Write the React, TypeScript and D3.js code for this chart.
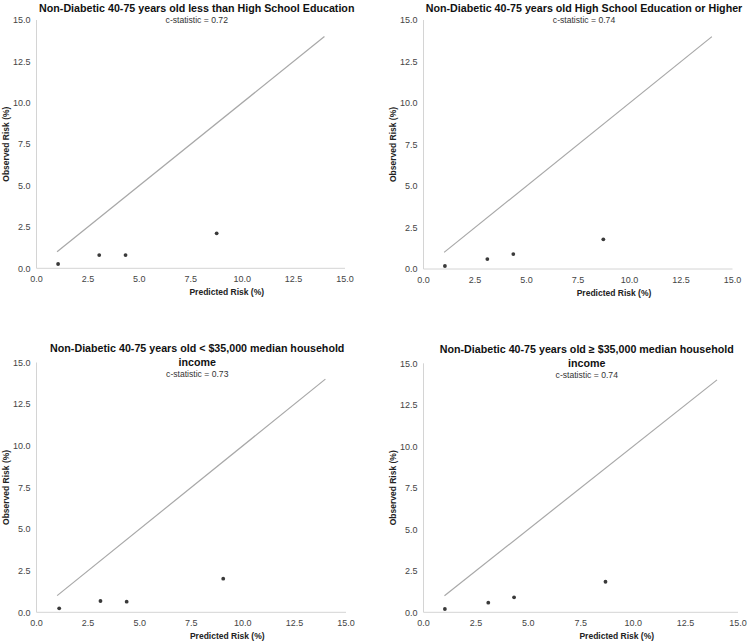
import React from "react";
import * as d3 from "d3";

const tickValues = [0, 2.5, 5, 7.5, 10, 12.5, 15];
const refLine = [1, 14];
const titles = [
  ["Non-Diabetic 40-75 years old less than High School Education"],
  ["Non-Diabetic 40-75 years old High School Education or Higher"],
  ["Non-Diabetic 40-75 years old < $35,000 median household", "income"],
  ["Non-Diabetic 40-75 years old \u2265 $35,000 median household", "income"],
];
const cStats = ["0.72", "0.74", "0.73", "0.74"];
const predicted1 = [1.05, 3.05, 4.33, 8.76];
const observed1 = [0.26, 0.8, 0.8, 2.11];
const predicted2 = [1.04, 3.1, 4.36, 8.73];
const observed2 = [0.18, 0.6, 0.9, 1.79];
const predicted3 = [1.1, 3.1, 4.37, 9.05];
const observed3 = [0.24, 0.68, 0.64, 2.02];
const predicted4 = [1.02, 3.09, 4.32, 8.68];
const observed4 = [0.2, 0.58, 0.9, 1.84];
const xTitle = "Predicted Risk (%)";
const yTitle = "Observed Risk (%)";

const predictedSets = [predicted1, predicted2, predicted3, predicted4];
const observedSets = [observed1, observed2, observed3, observed4];

// layout per panel: [x0, x15, y0, y15]
const layouts = [
  [36.5, 345, 268.3, 20],
  [423.5, 732.5, 269, 20],
  [36.5, 346, 612.3, 362.5],
  [423.5, 738, 612.3, 363.3],
];

const FONT = "'Liberation Sans', Arial, sans-serif";

function Panel({ i }: { i: number }) {
  const [x0, x1, y0, y1] = layouts[i];
  const x = d3.scaleLinear().domain([0, 15]).range([x0, x1]);
  const y = d3.scaleLinear().domain([0, 15]).range([y0, y1]);
  const line = d3
    .line<number>()
    .x((d) => x(d))
    .y((d) => y(d));
  const title = titles[i];
  const cx = (x0 + x1) / 2 + 6;
  const titleTop = i < 2 ? 12 : y1 - 10.5;
  const pts = predictedSets[i].map((p, k) => [p, observedSets[i][k]]);
  const fmt = d3.format(".1f");
  return (
    <g>
      {title.map((t, k) => (
        <text
          key={k}
          x={cx}
          y={titleTop + k * 13.7}
          textAnchor="middle"
          fontFamily={FONT}
          fontWeight="bold"
          fontSize={10.7}
          fill="#111"
        >
          {t}
        </text>
      ))}
      <text
        x={cx}
        y={titleTop + (title.length - 1) * 13.7 + 11}
        textAnchor="middle"
        fontFamily={FONT}
        fontSize={8.6}
        fill="#333"
      >
        {"c-statistic = " + cStats[i]}
      </text>
      <line x1={x0} x2={x0} y1={y(0)} y2={y(15)} stroke="#d4d4d4" strokeWidth={1} />
      <line x1={x(0)} x2={x(15)} y1={y0} y2={y0} stroke="#d4d4d4" strokeWidth={1} />
      {tickValues.map((t) => (
        <text
          key={"y" + t}
          x={x0 - 6}
          y={y(t) + 3.2}
          textAnchor="end"
          fontFamily={FONT}
          fontSize={9}
          fill="#444"
        >
          {fmt(t)}
        </text>
      ))}
      {tickValues.map((t) => (
        <text
          key={"x" + t}
          x={x(t)}
          y={y0 + 14}
          textAnchor="middle"
          fontFamily={FONT}
          fontSize={9}
          fill="#444"
        >
          {fmt(t)}
        </text>
      ))}
      <text
        x={cx + 30}
        y={y0 + 27}
        textAnchor="middle"
        fontFamily={FONT}
        fontWeight="bold"
        fontSize={8.5}
        fill="#222"
      >
        {xTitle}
      </text>
      <text
        transform={`translate(${x0 - 28},${(y0 + y1) / 2}) rotate(-90)`}
        textAnchor="middle"
        fontFamily={FONT}
        fontWeight="bold"
        fontSize={8.5}
        fill="#222"
      >
        {yTitle}
      </text>
      <path d={line(refLine) || ""} stroke="#a8a8a8" strokeWidth={1.2} fill="none" />
      {pts.map((p, k) => (
        <circle key={k} cx={x(p[0])} cy={y(p[1])} r={1.9} fill="#3a3a3a" />
      ))}
    </g>
  );
}

export default function App() {
  return (
    <svg
      width={750}
      height={644}
      style={{ position: "absolute", left: 0, top: 0, background: "#fff" }}
    >
      <rect width={750} height={644} fill="#fff" />
      {[0, 1, 2, 3].map((i) => (
        <Panel key={i} i={i} />
      ))}
    </svg>
  );
}
